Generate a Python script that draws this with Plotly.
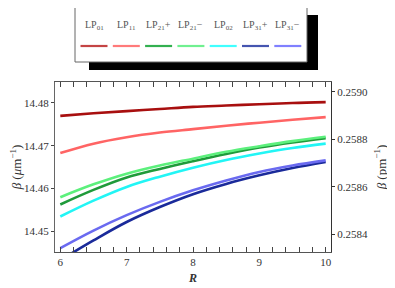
import plotly.graph_objects as go

R = [6, 6.5, 7, 7.5, 8, 8.5, 9, 9.5, 10]
names = ["LP<sub>01</sub>", "LP<sub>11</sub>", "LP<sub>21</sub>+", "LP<sub>21</sub>−",
         "LP<sub>02</sub>", "LP<sub>31</sub>+", "LP<sub>31</sub>−"]
lp01 = [14.4770, 14.4776, 14.4781, 14.4786, 14.4791, 14.4794, 14.4797, 14.4800, 14.4802]
lp11 = [14.4683, 14.4705, 14.4720, 14.4731, 14.4739, 14.4747, 14.4754, 14.4761, 14.4767]
lp21p = [14.4563, 14.4597, 14.4626, 14.4646, 14.4664, 14.4681, 14.4696, 14.4708, 14.4718]
lp21m = [14.4580, 14.4610, 14.4635, 14.4654, 14.4670, 14.4686, 14.4699, 14.4711, 14.4721]
lp02 = [14.4535, 14.4572, 14.4604, 14.4628, 14.4649, 14.4667, 14.4682, 14.4695, 14.4705]
lp31p = [14.4433, 14.4479, 14.4522, 14.4557, 14.4587, 14.4611, 14.4631, 14.4648, 14.4662]
lp31m = [14.4461, 14.4502, 14.4538, 14.4569, 14.4596, 14.4619, 14.4639, 14.4654, 14.4666]
series = [lp01, lp11, lp21p, lp21m, lp02, lp31p, lp31m]
line_colors = ["#a80f0f", "#ff6464", "#1f9a3a", "#5cf07c", "#22f5f5", "#1a2a9a", "#6a6af0"]
legend_colors = ["#c44444", "#ff7a7a", "#33b050", "#70f090", "#40ffff", "#4555b0", "#8080ff"]

left_ticks = [14.45, 14.46, 14.47, 14.48]
right_ticks = [0.2584, 0.2586, 0.2588, 0.2590]

fig = go.Figure()
for s, c, n in zip(series, line_colors, names):
    fig.add_trace(go.Scatter(x=R, y=s, mode="lines", name=n,
                             line=dict(color=c, width=2.6, shape="spline"),
                             showlegend=False))
fig.add_trace(go.Scatter(x=[R[0]], y=[right_ticks[0]], yaxis="y2", mode="markers",
                         marker=dict(opacity=0), showlegend=False, hoverinfo="skip"))

font = "Liberation Serif, Times New Roman, serif"
# page body has an 8px margin, so the figure is drawn 8px smaller and offset
fig.update_layout(
    width=387, height=280,
    margin=dict(l=47, r=64, t=74, b=36, autoexpand=False),
    paper_bgcolor="white", plot_bgcolor="white",
    font=dict(family=font, size=11, color="#333"),
    xaxis=dict(range=[5.92, 10.08], tickvals=[6, 7, 8, 9, 10], ticks="inside", ticklen=5,
               tickcolor="#444", showline=True, linecolor="#555", linewidth=1,
               mirror="allticks", showgrid=False, zeroline=False, automargin=False,
               minor=dict(dtick=0.2, tick0=6, ticks="inside", ticklen=3, tickcolor="#444"),
               title=dict(text="<b><i>R</i></b>", standoff=6, font=dict(size=12))),
    yaxis=dict(range=[14.4452, 14.4849], tickvals=left_ticks,
               ticktext=[f"{v:.2f}" for v in left_ticks], ticks="outside", ticklen=3,
               tickcolor="#444", showline=True, linecolor="#666", linewidth=1,
               showgrid=False, zeroline=False, automargin=False,
               title=dict(text="<i>β</i> (<i>μ</i>m<sup>−1</sup>)", standoff=4)),
    yaxis2=dict(range=[0.258325, 0.259042], overlaying="y", side="right",
                tickvals=right_ticks, ticktext=[f"{v:.4f}" for v in right_ticks],
                ticks="outside", ticklen=3, tickcolor="#333", showline=True,
                linecolor="#333", linewidth=1, showgrid=False, zeroline=False,
                automargin=False,
                title=dict(text="<i>β</i> (pm<sup>−1</sup>)", standoff=9)),
)

# custom legend box with shadow (positions relative to the plot area, in reference px)
W, H = 276.0, 170.0
def px(x):
    return (x - 55) / W
def py(y):
    return (252 - y) / H
fig.add_shape(type="rect", xref="paper", yref="paper", x0=px(89), x1=px(318),
              y0=py(70), y1=py(15), fillcolor="black", line=dict(width=0), layer="above")
fig.add_shape(type="rect", xref="paper", yref="paper", x0=px(75), x1=px(307),
              y0=py(62), y1=py(3), fillcolor="white", line=dict(color="#666", width=1),
              layer="above")
for i, (n, c) in enumerate(zip(names, legend_colors)):
    cx = 94 + i * 32.3
    fig.add_shape(type="line", xref="paper", yref="paper", x0=px(cx - 13.5), x1=px(cx + 13.5),
                  y0=py(46), y1=py(46), line=dict(color=c, width=2.2), layer="above")
    fig.add_annotation(xref="paper", yref="paper", x=px(cx), y=py(25), text=n,
                       showarrow=False, font=dict(family=font, size=10, color="#555"),
                       xanchor="center", yanchor="middle")

fig.write_html("out.html")
